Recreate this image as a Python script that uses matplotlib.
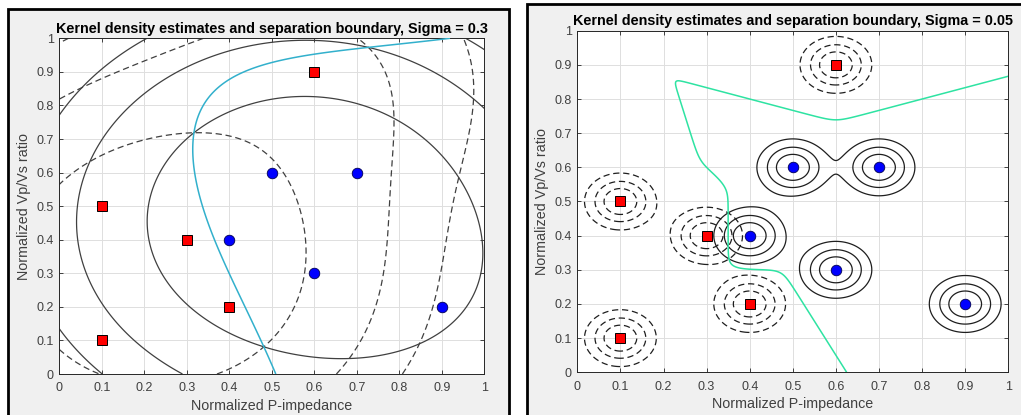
import numpy as np
import matplotlib
matplotlib.use('Agg')
import matplotlib.pyplot as plt
from matplotlib.patches import Rectangle

plt.rcParams['font.family'] = ['Liberation Sans', 'DejaVu Sans']
plt.rcParams['lines.dashed_pattern'] = [5.0, 3.0]

# ── data ─────────────────────────────────────────────────────────
red_x  = [0.1, 0.1, 0.3, 0.4, 0.6]
red_y  = [0.1, 0.5, 0.4, 0.2, 0.9]
blue_x = [0.4, 0.5, 0.6, 0.7, 0.9]
blue_y = [0.4, 0.6, 0.3, 0.6, 0.2]

sigmas = [0.3, 0.05]
# contour levels (sum of gaussian kernels)
levels_left  = [0.5, 1.0, 2.0]
levels_right = [0.25, 0.5, 0.75]

ticks = [0, 0.1, 0.2, 0.3, 0.4, 0.5, 0.6, 0.7, 0.8, 0.9, 1]
tick_labels = ['0', '0.1', '0.2', '0.3', '0.4', '0.5', '0.6', '0.7', '0.8', '0.9', '1']

titles = ['Kernel density estimates and separation boundary, Sigma = 0.3',
          'Kernel density estimates and separation boundary, Sigma = 0.05']
xlabel = 'Normalized P-impedance'
ylabel = 'Normalized Vp/Vs ratio'


def kde(px, py, sigma, gx, gy):
    z = np.zeros_like(gx)
    for x0, y0 in zip(px, py):
        z += np.exp(-((gx - x0)**2 + (gy - y0)**2) / (2 * sigma**2))
    return z


g = np.linspace(0, 1, 601)
GX, GY = np.meshgrid(g, g)

fig = plt.figure(figsize=(10.21, 4.15), dpi=100)
fig.patch.set_facecolor('white')

# panel frames (pixel coords -> figure coords)
W, H = 1021, 415
for x0, x1, ytop in [(8, 509, 9), (527, 1030, 4)]:
    fig.patches.append(Rectangle((x0 / W, -0.05), (x1 - x0) / W, 1.05 - ytop / H,
                                 transform=fig.transFigure, facecolor='#f0f0f0',
                                 edgecolor='black', linewidth=2, zorder=-10))

ax_pos = [[59.3 / W, 41 / H, 425 / W, 335.7 / H],
          [577.3 / W, 42.7 / H, 431 / W, 341.6 / H]]
boundary_colors = ['#32b0cc', '#2ee3a2']
contour_colors = ['#404040', '#1e1e1e']
level_sets = [levels_left, levels_right]

for i in range(2):
    ax = fig.add_axes(ax_pos[i])
    ax.set_facecolor('white')
    s = sigmas[i]
    zr = kde(red_x, red_y, s, GX, GY)
    zb = kde(blue_x, blue_y, s, GX, GY)

    ax.contour(GX, GY, zb, levels=level_sets[i], colors=contour_colors[i],
               linewidths=0.9, linestyles='solid', zorder=2)
    ax.contour(GX, GY, zr, levels=level_sets[i], colors=contour_colors[i],
               linewidths=0.9, linestyles='dashed', zorder=2)
    ratio = np.log(zr + 1e-300) - np.log(zb + 1e-300)
    ax.contour(GX, GY, ratio, levels=[0], colors=boundary_colors[i],
               linewidths=1.1, zorder=3)

    ax.plot(red_x, red_y, 's', color='red', markeredgecolor='black',
            markeredgewidth=0.7, markersize=7, zorder=5)
    ax.plot(blue_x, blue_y, 'o', color='blue', markeredgecolor='#000050',
            markeredgewidth=0.6, markersize=7.6, zorder=5)

    ax.set_xlim(0, 1)
    ax.set_ylim(0, 1)
    ax.set_xticks(ticks)
    ax.set_xticklabels(tick_labels)
    ax.set_yticks(ticks)
    ax.set_yticklabels(tick_labels)
    ax.tick_params(direction='in', length=3, width=0.6, colors='#262626',
                   labelsize=9, top=True, right=True)
    ax.tick_params(axis='x', pad=6)
    ax.tick_params(axis='y', pad=4)
    for lab in ax.get_xticklabels() + ax.get_yticklabels():
        lab.set_color('#404040')
    ax.grid(True, color='#dedede', linewidth=0.7)
    ax.set_axisbelow(True)
    for sp in ax.spines.values():
        sp.set_color('#262626')
        sp.set_linewidth(0.7)
    ax.set_title(titles[i], fontsize=10.4, fontweight='bold', color='black', pad=4)
    ax.set_xlabel(xlabel, fontsize=10.3, color='#404040', labelpad=3)
    ax.set_ylabel(ylabel, fontsize=10.3, color='#404040', labelpad=4)

plt.savefig('out.png', dpi=100)
plt.close()
